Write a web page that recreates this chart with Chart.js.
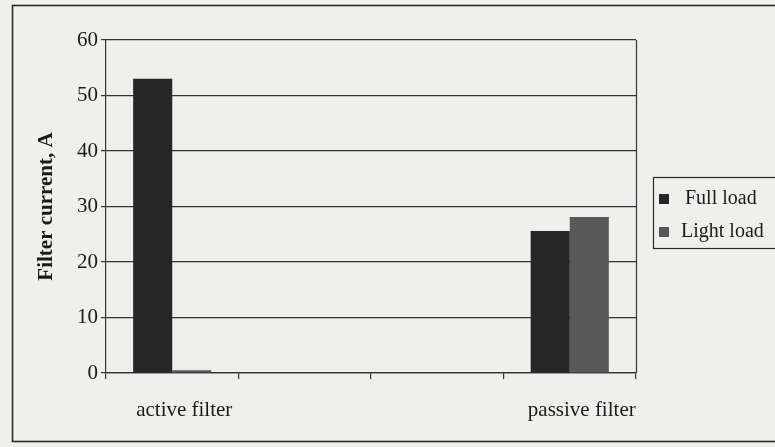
<!DOCTYPE html>
<html>
<head>
<meta charset="utf-8">
<script src="https://cdn.jsdelivr.net/npm/chart.js@4/dist/chart.umd.min.js"></script>
<style>
  html, body { margin: 0; padding: 0; background: #efefed; }
  #wrap { width: 775px; height: 447px; }
</style>
</head>
<body>
<div id="wrap"><canvas id="filterChart" width="775" height="447"></canvas></div>
<script>
// Chart data
const categories = ['active filter', '', '', 'passive filter'];
const fullLoad = [53, null, null, 25.6];
const lightLoad = [0.5, null, null, 28.1];
const yTicks = [0, 10, 20, 30, 40, 50, 60];

const serif = '"Liberation Serif", "DejaVu Serif", serif';

// Frame, plot border and legend box drawn around the chart
const framePlugin = {
    id: 'frame',
    beforeDraw(chart) {
        const ctx = chart.ctx;
        ctx.save();
        ctx.fillStyle = '#efefed';
        ctx.fillRect(0, 0, chart.width, chart.height);
        ctx.strokeStyle = '#2a2a2a';
        ctx.lineWidth = 1.6;
        ctx.strokeRect(12.5, 5.5, chart.width + 10, 436);
        ctx.restore();
    },
    afterDraw(chart) {
        const ctx = chart.ctx;
        const area = chart.chartArea;
        ctx.save();
        ctx.strokeStyle = '#333';
        ctx.lineWidth = 1.2;
        ctx.beginPath();
        ctx.moveTo(area.right + 0.5, area.top);
        ctx.lineTo(area.right + 0.5, area.bottom);
        ctx.stroke();

        // legend
        ctx.strokeStyle = '#2a2a2a';
        ctx.strokeRect(653.5, 177.5, 140, 71);
        ctx.font = '20px ' + serif;
        ctx.textBaseline = 'middle';
        chart.data.datasets.forEach((ds, i) => {
            const y = 199 + i * 33;
            ctx.fillStyle = ds.backgroundColor;
            ctx.fillRect(659, y - 5, 10, 10);
            ctx.fillStyle = '#1a1a1a';
            ctx.fillText(ds.label, i === 0 ? 685 : 681, y);
        });
        ctx.restore();
    }
};

function createChart() {
    const ctx = document.getElementById('filterChart');
    new Chart(ctx, {
        type: 'bar',
        data: {
            labels: categories,
            datasets: [{
                label: 'Full load',
                data: fullLoad,
                backgroundColor: '#262626'
            }, {
                label: 'Light load',
                data: lightLoad,
                backgroundColor: '#585858'
            }]
        },
        options: {
            responsive: false,
            animation: false,
            devicePixelRatio: 1,
            layout: { padding: { left: 12, top: 40, right: 139, bottom: 0 } },
            plugins: {
                legend: { display: false },
                tooltip: { enabled: false }
            },
            datasets: {
                bar: { categoryPercentage: 0.59, barPercentage: 1 }
            },
            scales: {
                x: {
                    grid: { display: true, drawOnChartArea: false, tickLength: 6, color: '#333', lineWidth: 1.2, offset: true },
                    border: { color: '#333', width: 1.2 },
                    ticks: {
                        color: '#1a1a1a',
                        font: { family: serif, size: 21 },
                        padding: 19,
                        labelOffset: 12,
                        maxRotation: 0,
                        autoSkip: false
                    },
                    afterFit: s => { s.height = 74; }
                },
                y: {
                    min: 0,
                    max: 60,
                    afterBuildTicks: s => { s.ticks = yTicks.map(v => ({ value: v })); },
                    grid: { color: '#333', lineWidth: 1.2, tickLength: 5 },
                    border: { color: '#333', width: 1.2 },
                    ticks: {
                        color: '#1a1a1a',
                        font: { family: serif, size: 21 },
                        padding: 3
                    },
                    title: {
                        display: true,
                        text: 'Filter current, A',
                        color: '#1a1a1a',
                        font: { family: serif, size: 21, weight: 'bold' },
                        padding: { top: 22, bottom: 0 }
                    },
                    afterFit: s => { s.width = 94; }
                }
            }
        },
        plugins: [framePlugin]
    });
}

document.addEventListener('DOMContentLoaded', createChart);
</script>
</body>
</html>
